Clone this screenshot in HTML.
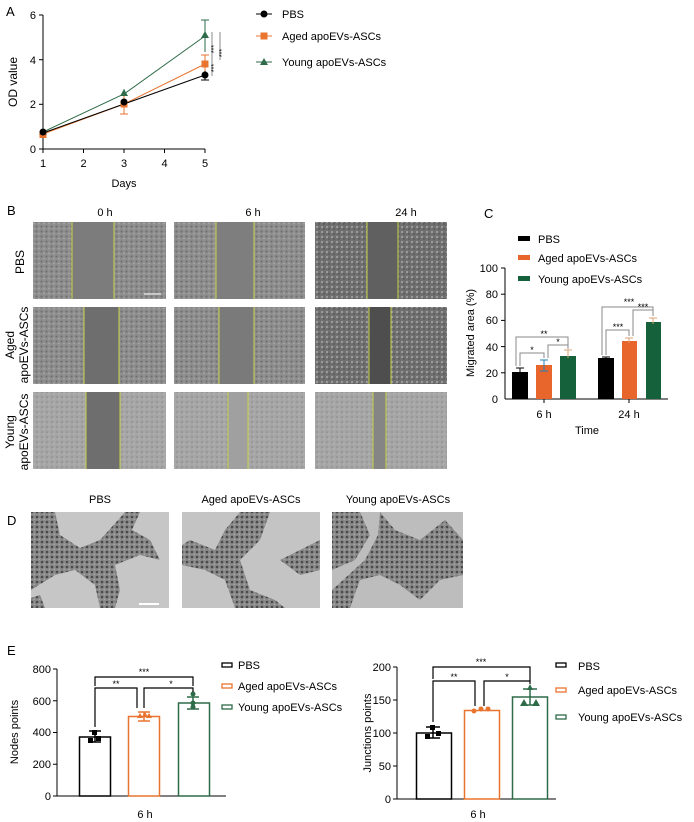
<!DOCTYPE html>
<html><head><meta charset="utf-8"><style>
body{margin:0;background:#fff}
svg{display:block;font-family:"Liberation Sans",Arial,sans-serif}
</style></head><body>
<svg width="694" height="822" viewBox="0 0 694 822">
<defs>
<pattern id="cells" width="5" height="5" patternUnits="userSpaceOnUse">
<rect width="5" height="5" fill="#8e8e8e"/><circle cx="1.5" cy="1.5" r="1" fill="#6e6e6e"/><circle cx="4" cy="3.5" r="0.8" fill="#ababab"/>
</pattern>
<pattern id="cells2" width="5" height="5" patternUnits="userSpaceOnUse">
<rect width="5" height="5" fill="#707070"/><circle cx="2" cy="2" r="1" fill="#a8a8a8"/><circle cx="4" cy="4" r="0.7" fill="#4a4a4a"/>
</pattern>
<pattern id="cells3" width="5" height="5" patternUnits="userSpaceOnUse">
<rect width="5" height="5" fill="#a6a6a6"/><circle cx="2" cy="2" r="1" fill="#949494"/><circle cx="4" cy="4" r="0.7" fill="#b8b8b8"/>
</pattern>
<pattern id="tube" width="5" height="5" patternUnits="userSpaceOnUse">
<rect width="5" height="5" fill="#8a8a8a"/><circle cx="2" cy="2" r="1.3" fill="#4a4a4a"/><circle cx="4.3" cy="4.3" r="0.7" fill="#b0b0b0"/>
</pattern>
</defs>
<g font-size="11" fill="#000">
<!-- Panel A -->
<text x="6" y="16" font-size="13">A</text>
<line x1="43" y1="15" x2="43" y2="149" stroke="#000"/>
<line x1="43" y1="149" x2="205" y2="149" stroke="#000"/>
<g stroke="#000">
<line x1="39" y1="15" x2="43" y2="15"/><line x1="39" y1="59.7" x2="43" y2="59.7"/><line x1="39" y1="104.3" x2="43" y2="104.3"/><line x1="39" y1="149" x2="43" y2="149"/>
<line x1="43" y1="149" x2="43" y2="153"/><line x1="83.5" y1="149" x2="83.5" y2="153"/><line x1="124" y1="149" x2="124" y2="153"/><line x1="164.5" y1="149" x2="164.5" y2="153"/><line x1="205" y1="149" x2="205" y2="153"/>
</g>
<g text-anchor="end"><text x="36" y="19">6</text><text x="36" y="64">4</text><text x="36" y="108">2</text><text x="36" y="153">0</text></g>
<g text-anchor="middle"><text x="43" y="167">1</text><text x="83.5" y="167">2</text><text x="124" y="167">3</text><text x="164.5" y="167">4</text><text x="205" y="167">5</text>
<text x="124" y="187">Days</text></g>
<text transform="translate(17,82) rotate(-90)" text-anchor="middle" font-size="12">OD value</text>
<polyline points="43,132 124,94 205,36" fill="none" stroke="#2e6b48"/>
<polyline points="43,134 124,104 205,64" fill="none" stroke="#e8742f"/>
<polyline points="43,133 124,104 205,75" fill="none" stroke="#000"/>
<g stroke="#2e6b48"><line x1="205" y1="20" x2="205" y2="52"/><line x1="201" y1="20" x2="209" y2="20"/><line x1="124" y1="89" x2="124" y2="99"/></g>
<g stroke="#e8742f"><line x1="205" y1="55" x2="205" y2="73"/><line x1="201" y1="55" x2="209" y2="55"/><line x1="124" y1="96" x2="124" y2="114"/><line x1="120" y1="114" x2="128" y2="114"/></g>
<g stroke="#000"><line x1="205" y1="71" x2="205" y2="80"/><line x1="201" y1="80" x2="209" y2="80"/></g>
<polygon points="205,31 209,38 201,38" fill="#2e6b48"/><polygon points="124,89 128,96 120,96" fill="#2e6b48"/><polygon points="43,128 47,135 39,135" fill="#2e6b48"/>
<rect x="201.5" y="60.5" width="7" height="7" fill="#e8742f"/><rect x="120.5" y="100.5" width="7" height="7" fill="#e8742f"/><rect x="39.5" y="131" width="7" height="7" fill="#e8742f"/>
<circle cx="205" cy="75" r="3.5"/><circle cx="124" cy="102" r="3.5"/><circle cx="43" cy="132" r="3.5"/>
<g stroke="#888"><line x1="212" y1="32" x2="212" y2="76"/><line x1="220" y1="32" x2="220" y2="60"/></g>
<g font-size="7" transform="rotate(-90)"><text x="-49" y="216" text-anchor="middle">***</text><text x="-68" y="216" text-anchor="middle">***</text><text x="-53" y="224" text-anchor="middle">***</text></g>
<line x1="256" y1="14" x2="272" y2="14" stroke="#000"/><circle cx="264" cy="14" r="3.5"/><text x="282" y="18">PBS</text>
<line x1="256" y1="36" x2="272" y2="36" stroke="#e8742f"/><rect x="260.5" y="32.5" width="7" height="7" fill="#e8742f"/><text x="282" y="40">Aged apoEVs-ASCs</text>
<line x1="256" y1="62" x2="272" y2="62" stroke="#2e6b48"/><polygon points="264,58 268,65 260,65" fill="#2e6b48"/><text x="282" y="66">Young apoEVs-ASCs</text>

<!-- Panel B -->
<text x="7" y="215" font-size="13">B</text>
<g text-anchor="middle"><text x="105" y="216">0 h</text><text x="253" y="216">6 h</text><text x="406" y="216">24 h</text></g>
<rect x="33" y="222" width="133" height="77" fill="url(#cells)"/><rect x="72" y="222" width="42" height="77" fill="#7c7c7c"/>
<rect x="174" y="222" width="131" height="77" fill="url(#cells)"/><rect x="216" y="222" width="38" height="77" fill="#7e7e7e"/>
<rect x="315" y="222" width="132" height="77" fill="url(#cells2)"/><rect x="367" y="222" width="31" height="77" fill="#606060"/>
<rect x="33" y="307" width="133" height="77" fill="url(#cells)"/><rect x="84" y="307" width="35" height="77" fill="#6e6e6e"/>
<rect x="174" y="307" width="131" height="77" fill="url(#cells)"/><rect x="219" y="307" width="35" height="77" fill="#7a7a7a"/>
<rect x="315" y="307" width="132" height="77" fill="url(#cells2)"/><rect x="369" y="307" width="22" height="77" fill="#4e4e4e"/>
<rect x="33" y="392" width="133" height="77" fill="url(#cells3)"/><rect x="86" y="392" width="34" height="77" fill="#6e6e6e"/>
<rect x="174" y="392" width="131" height="77" fill="url(#cells3)"/><rect x="228" y="392" width="20" height="77" fill="#a0a0a0"/>
<rect x="315" y="392" width="132" height="77" fill="url(#cells3)"/><rect x="373" y="392" width="13" height="77" fill="#858585"/>
<g stroke="#c8d24a"><line x1="72" y1="222" x2="72" y2="299"/><line x1="114" y1="222" x2="114" y2="299"/><line x1="216" y1="222" x2="216" y2="299"/><line x1="254" y1="222" x2="254" y2="299"/><line x1="367" y1="222" x2="367" y2="299"/><line x1="398" y1="222" x2="398" y2="299"/>
<line x1="84" y1="307" x2="84" y2="384"/><line x1="119" y1="307" x2="119" y2="384"/><line x1="219" y1="307" x2="219" y2="384"/><line x1="254" y1="307" x2="254" y2="384"/><line x1="369" y1="307" x2="369" y2="384"/><line x1="391" y1="307" x2="391" y2="384"/>
<line x1="86" y1="392" x2="86" y2="469"/><line x1="120" y1="392" x2="120" y2="469"/><line x1="228" y1="392" x2="228" y2="469"/><line x1="248" y1="392" x2="248" y2="469"/><line x1="373" y1="392" x2="373" y2="469"/><line x1="386" y1="392" x2="386" y2="469"/></g>
<line x1="144" y1="294" x2="161" y2="294" stroke="#fff"/>
<text transform="translate(24,262) rotate(-90)" text-anchor="middle" font-size="12">PBS</text>
<text transform="translate(14,345) rotate(-90)" text-anchor="middle" font-size="12">Aged</text>
<text transform="translate(28,345) rotate(-90)" text-anchor="middle" font-size="12">apoEVs-ASCs</text>
<text transform="translate(14,432) rotate(-90)" text-anchor="middle" font-size="12">Young</text>
<text transform="translate(28,432) rotate(-90)" text-anchor="middle" font-size="12">apoEVs-ASCs</text>

<!-- Panel C -->
<text x="484" y="218" font-size="13">C</text>
<rect x="518" y="236" width="12" height="5" fill="#000"/><text x="538" y="243">PBS</text>
<rect x="518" y="255" width="12" height="5" fill="#e8652b"/><text x="538" y="262">Aged apoEVs-ASCs</text>
<rect x="518" y="276" width="12" height="5" fill="#14613c"/><text x="538" y="283">Young apoEVs-ASCs</text>
<line x1="505" y1="268" x2="505" y2="399" stroke="#000"/><line x1="505" y1="399" x2="668" y2="399" stroke="#000"/>
<g stroke="#000"><line x1="501" y1="268" x2="505" y2="268"/><line x1="501" y1="294.2" x2="505" y2="294.2"/><line x1="501" y1="320.4" x2="505" y2="320.4"/><line x1="501" y1="346.6" x2="505" y2="346.6"/><line x1="501" y1="372.8" x2="505" y2="372.8"/><line x1="544" y1="399" x2="544" y2="403"/><line x1="629" y1="399" x2="629" y2="403"/></g>
<g text-anchor="end"><text x="498" y="272">100</text><text x="498" y="298">80</text><text x="498" y="324">60</text><text x="498" y="351">40</text><text x="498" y="377">20</text><text x="498" y="403">0</text></g>
<text transform="translate(474,333) rotate(-90)" text-anchor="middle">Migrated area (%)</text>
<g text-anchor="middle"><text x="544" y="418">6 h</text><text x="629" y="418">24 h</text><text x="587" y="434">Time</text></g>
<rect x="512" y="372" width="16" height="27" fill="#000"/>
<rect x="536" y="365" width="16" height="34" fill="#e8652b"/>
<rect x="560" y="356" width="16" height="43" fill="#14613c"/>
<rect x="598" y="358" width="16" height="41" fill="#000"/>
<rect x="622" y="341" width="15" height="58" fill="#e8652b"/>
<rect x="646" y="322" width="15" height="77" fill="#14613c"/>
<g stroke="#000"><line x1="520" y1="368" x2="520" y2="372"/><line x1="516" y1="368" x2="524" y2="368"/><line x1="606" y1="357" x2="606" y2="358"/><line x1="602" y1="357" x2="610" y2="357"/></g>
<g stroke="#2a7fb0"><line x1="544" y1="360" x2="544" y2="371"/><line x1="540" y1="360" x2="548" y2="360"/><line x1="540" y1="371" x2="548" y2="371"/></g>
<g stroke="#d9a070"><line x1="568" y1="350" x2="568" y2="358"/><line x1="564" y1="350" x2="572" y2="350"/><line x1="629" y1="338" x2="629" y2="343"/><line x1="625" y1="338" x2="633" y2="338"/><line x1="653" y1="318" x2="653" y2="324"/><line x1="649" y1="318" x2="657" y2="318"/></g>
<g stroke="#888" fill="none"><polyline points="520,366 520,353 544,353 544,358"/><polyline points="548,358 548,345 568,345 568,349"/><polyline points="516,366 516,337 568,337 568,345"/>
<polyline points="606,355 606,330 629,330 629,336"/><polyline points="633,336 633,310 653,310 653,316"/><polyline points="602,355 602,307 653,307 653,310"/></g>
<g text-anchor="middle" font-size="9"><text x="532" y="353">*</text><text x="558" y="345">*</text><text x="544" y="337">**</text><text x="618" y="330">***</text><text x="643" y="310">***</text><text x="629" y="305">***</text></g>

<!-- Panel D -->
<text x="7" y="525" font-size="13">D</text>
<g text-anchor="middle"><text x="100" y="503">PBS</text><text x="251" y="503">Aged apoEVs-ASCs</text><text x="398" y="503">Young apoEVs-ASCs</text></g>
<rect x="31" y="512" width="138" height="96" fill="#c6c6c6"/>
<rect x="182" y="512" width="138" height="96" fill="#c4c4c4"/>
<rect x="332" y="512" width="131" height="96" fill="#bdbdbd"/>
<g fill="url(#tube)">
<path d="M31,512 L55,512 L60,535 L80,548 L100,540 L118,520 L125,512 L140,512 L132,530 L150,540 L160,560 L140,555 L115,565 L120,590 L115,608 L100,608 L95,585 L75,570 L55,575 L31,590 Z"/>
<path d="M31,608 L45,608 L40,595 L31,598Z"/>
<path d="M190,540 L215,550 L225,530 L240,512 L270,512 L260,540 L240,560 L250,590 L275,600 L285,608 L235,608 L225,580 L205,570 L182,565 L182,545Z"/>
<path d="M280,560 L320,540 L320,570 L300,575Z"/>
<path d="M332,512 L360,512 L370,535 L355,560 L332,570Z"/>
<path d="M380,512 L395,530 L420,540 L445,520 L463,540 L463,575 L440,580 L420,600 L400,585 L380,575 L360,580 L350,608 L332,608 L332,590 L365,560 L378,535Z"/>
</g>
<line x1="139" y1="604" x2="159" y2="604" stroke="#fff" stroke-width="2"/>

<!-- Panel E left -->
<text x="7" y="655" font-size="13">E</text>
<line x1="57" y1="669" x2="57" y2="796" stroke="#000"/><line x1="57" y1="796" x2="226" y2="796" stroke="#000"/>
<g stroke="#000"><line x1="53" y1="669" x2="57" y2="669"/><line x1="53" y1="700.75" x2="57" y2="700.75"/><line x1="53" y1="732.5" x2="57" y2="732.5"/><line x1="53" y1="764.25" x2="57" y2="764.25"/><line x1="53" y1="796" x2="57" y2="796"/></g>
<g text-anchor="end"><text x="51" y="673">800</text><text x="51" y="705">600</text><text x="51" y="736">400</text><text x="51" y="768">200</text><text x="51" y="800">0</text></g>
<text transform="translate(18,732) rotate(-90)" text-anchor="middle">Nodes points</text>
<text x="145" y="818" text-anchor="middle">6 h</text>
<rect x="79.5" y="737" width="31" height="59" fill="none" stroke="#000" stroke-width="1.5"/>
<rect x="128.5" y="716.5" width="31" height="79.5" fill="none" stroke="#e8742f" stroke-width="1.5"/>
<rect x="178.5" y="703" width="31" height="93" fill="none" stroke="#2e6b48" stroke-width="1.5"/>
<g stroke="#000" stroke-width="1.5"><line x1="95" y1="731" x2="95" y2="742"/><line x1="89" y1="731" x2="101" y2="731"/><line x1="89" y1="742" x2="101" y2="742"/></g>
<rect x="92" y="730" width="5" height="5"/><rect x="88" y="738" width="5" height="5"/><rect x="96" y="736" width="5" height="5"/>
<g stroke="#e8742f" stroke-width="1.5"><line x1="144" y1="712" x2="144" y2="721"/><line x1="138" y1="712" x2="150" y2="712"/><line x1="138" y1="721" x2="150" y2="721"/></g>
<g fill="#e8742f"><polygon points="140,713 143,718 137,718"/><polygon points="145,712 148,717 142,717"/><polygon points="149,713 152,718 146,718"/></g>
<g stroke="#2e6b48" stroke-width="1.5"><line x1="193" y1="697" x2="193" y2="709"/><line x1="187" y1="697" x2="199" y2="697"/><line x1="187" y1="709" x2="199" y2="709"/></g>
<g fill="#2e6b48"><circle cx="193" cy="694" r="2.5"/><circle cx="193" cy="703" r="2.5"/><circle cx="193" cy="707" r="2.5"/></g>
<g stroke="#000" fill="none" stroke-width="1.2"><polyline points="95,727 95,688 137,688 137,708"/><polyline points="144,708 144,688 193,688 193,692"/><polyline points="95,686 95,677 193,677 193,686"/></g>
<g text-anchor="middle" font-size="9"><text x="116" y="687">**</text><text x="171" y="687">*</text><text x="144" y="675">***</text></g>
<rect x="222" y="663" width="10" height="4" fill="none" stroke="#000" stroke-width="1.3"/><text x="238" y="669">PBS</text>
<rect x="222" y="684" width="10" height="4" fill="none" stroke="#e8742f" stroke-width="1.3"/><text x="238" y="690">Aged apoEVs-ASCs</text>
<rect x="222" y="705" width="10" height="4" fill="none" stroke="#2e6b48" stroke-width="1.3"/><text x="238" y="711">Young apoEVs-ASCs</text>

<!-- Panel E right -->
<line x1="397" y1="667" x2="397" y2="799" stroke="#000"/><line x1="397" y1="799" x2="556" y2="799" stroke="#000"/>
<g stroke="#000"><line x1="393" y1="667" x2="397" y2="667"/><line x1="393" y1="700" x2="397" y2="700"/><line x1="393" y1="733" x2="397" y2="733"/><line x1="393" y1="766" x2="397" y2="766"/><line x1="393" y1="799" x2="397" y2="799"/></g>
<g text-anchor="end"><text x="391" y="671">200</text><text x="391" y="704">150</text><text x="391" y="737">100</text><text x="391" y="770">50</text><text x="391" y="803">0</text></g>
<text transform="translate(371,733) rotate(-90)" text-anchor="middle">Junctions  points</text>
<text x="478" y="818" text-anchor="middle">6 h</text>
<rect x="416.5" y="733" width="35" height="66" fill="none" stroke="#000" stroke-width="1.5"/>
<rect x="464.5" y="710.5" width="35" height="88.5" fill="none" stroke="#e8742f" stroke-width="1.5"/>
<rect x="512.5" y="697" width="35" height="102" fill="none" stroke="#2e6b48" stroke-width="1.5"/>
<g stroke="#000" stroke-width="1.5"><line x1="433" y1="727" x2="433" y2="738"/><line x1="426" y1="727" x2="440" y2="727"/><line x1="426" y1="738" x2="440" y2="738"/></g>
<rect x="430" y="725" width="5" height="5"/><rect x="425" y="734" width="5" height="5"/><rect x="436" y="731" width="5" height="5"/>
<g fill="#e8742f"><circle cx="474" cy="711" r="2.5"/><circle cx="481" cy="709" r="2.5"/><circle cx="488" cy="709" r="2.5"/></g>
<g stroke="#2e6b48" stroke-width="1.5"><line x1="530" y1="689" x2="530" y2="705"/><line x1="523" y1="689" x2="537" y2="689"/><line x1="523" y1="705" x2="537" y2="705"/></g>
<g fill="#2e6b48"><polygon points="530,684 533,690 527,690"/><polygon points="524,699 528,706 520,706"/><polygon points="536,699 540,706 532,706"/></g>
<g stroke="#000" fill="none" stroke-width="1.2"><polyline points="433,722 433,681 475,681 475,706"/><polyline points="484,706 484,681 530,681 530,684"/><polyline points="433,679 433,667 530,667 530,681"/></g>
<g text-anchor="middle" font-size="9"><text x="454" y="680">**</text><text x="507" y="680">*</text><text x="481" y="665">***</text></g>
<rect x="556" y="663" width="10" height="4" fill="none" stroke="#000" stroke-width="1.3"/><text x="578" y="670">PBS</text>
<rect x="556" y="688" width="10" height="4" fill="none" stroke="#e8742f" stroke-width="1.3"/><text x="578" y="694">Aged apoEVs-ASCs</text>
<rect x="556" y="715" width="10" height="4" fill="none" stroke="#2e6b48" stroke-width="1.3"/><text x="578" y="721">Young apoEVs-ASCs</text>
</g>
</svg>
</body></html>
